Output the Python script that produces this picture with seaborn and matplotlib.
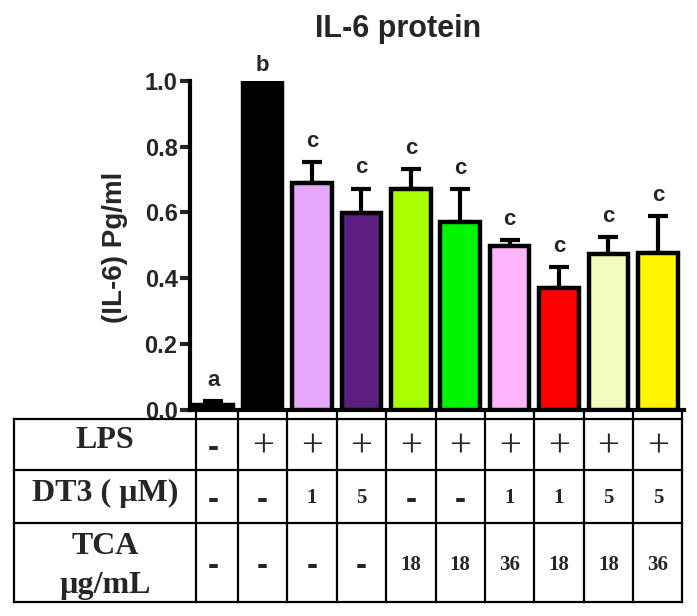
import matplotlib
matplotlib.use("Agg")
import matplotlib.pyplot as plt
import matplotlib.transforms as mtransforms
from matplotlib.lines import Line2D
import seaborn as sns
import pandas as pd
import numpy as np

# ---------------- data ----------------
groups = ["G1", "G2", "G3", "G4", "G5", "G6", "G7", "G8", "G9", "G10"]
means = [0.015, 1.0, 0.688, 0.598, 0.670, 0.571, 0.498, 0.370, 0.474, 0.478]
errors = [0.013, 0.0, 0.064, 0.074, 0.061, 0.100, 0.018, 0.063, 0.051, 0.111]
letters = ["a", "b", "c", "c", "c", "c", "c", "c", "c", "c"]
colors = ["#000000", "#000000", "#E6A8FA", "#5A1F80", "#A8FF00",
          "#00F500", "#FFB5FA", "#FF0000", "#F5FCC0", "#FFF500"]
lps = ["-", "+", "+", "+", "+", "+", "+", "+", "+", "+"]
dt3 = ["-", "-", "1", "5", "-", "-", "1", "1", "5", "5"]
tca = ["-", "-", "-", "-", "18", "18", "36", "18", "18", "36"]
row_labels = ["LPS", "DT3 ( µM)", "TCA\nµg/mL"]
yticks = [0.0, 0.2, 0.4, 0.6, 0.8, 1.0]
ytick_labels = ["0.0", "0.2", "0.4", "0.6", "0.8", "1.0"]
title = "IL-6 protein"
ylabel = "(IL-6) Pg/ml"

sns.set_style("ticks")
plt.rcParams["font.family"] = ["Liberation Sans", "DejaVu Sans"]

W, H = 697, 616
fig = plt.figure(figsize=(W / 100, H / 100), dpi=100)
ax = fig.add_axes([190 / W, 1 - 410 / H, (684 - 190) / W, (410 - 80.7) / H])

df = pd.DataFrame({"group": groups, "value": means})
sns.barplot(data=df, x="group", y="value", hue="group", palette=colors,
            legend=False, ax=ax, width=0.8, edgecolor="black", linewidth=3.2,
            saturation=1, errorbar=None, zorder=3)

xpos = np.arange(len(groups))
ax.errorbar(xpos, means, yerr=[np.zeros(len(means)), errors], fmt="none",
            ecolor="black", elinewidth=3, capsize=7.5, capthick=3, zorder=2)

for i, (m, e, l) in enumerate(zip(means, errors, letters)):
    off = 11 if e > 0 else 7
    ax.annotate(l, xy=(i, m + e), xytext=(0, off), textcoords="offset points",
                ha="center", va="baseline", fontsize=16, fontweight="bold",
                annotation_clip=False)

ax.set_xlim(-0.47, 9.53)
ax.set_ylim(0, 1.0)
ax.set_yticks(yticks)
ax.set_yticklabels(ytick_labels, fontsize=17, fontweight="bold")
ax.tick_params(axis="y", direction="out", length=7, width=3, pad=2)
ax.tick_params(axis="x", length=0, labelbottom=False)
ax.set_xlabel("")
ax.set_ylabel("")
for s in ["top", "right"]:
    ax.spines[s].set_visible(False)
for s in ["left", "bottom"]:
    ax.spines[s].set_linewidth(3)
    ax.spines[s].set_color("black")
    ax.spines[s].set_capstyle("projecting")

fig.text(398 / W, 1 - 36.7 / H, title, ha="center", va="baseline",
         fontsize=22, fontweight="bold")
fig.text(115 / W, 1 - 247.5 / H, ylabel, ha="center", va="center",
         rotation=90, fontsize=20, fontweight="bold")

# ---------------- table ----------------
trans = mtransforms.blended_transform_factory(ax.transData, fig.transFigure)
def fy(px):
    return 1 - px / H

x_left, x_right, x_div = -4.03, 9.49, -0.35
row_lines = [419, 470, 523, 602]
for yp in row_lines:
    fig.add_artist(Line2D([x_left, x_right], [fy(yp), fy(yp)], transform=trans,
                          color="black", lw=1.6, solid_capstyle="projecting"))
vlines = [x_left, x_div] + [i + 0.5 for i in range(9)] + [x_right]
for xv in vlines:
    top = 419 if xv == x_left else 410
    fig.add_artist(Line2D([xv, xv], [fy(top), fy(602)], transform=trans,
                          color="black", lw=1.6, solid_capstyle="projecting"))

serif = ["Liberation Serif", "DejaVu Serif"]
sans = ["Liberation Sans", "DejaVu Sans"]
x_lab = (x_left + x_div) / 2
fig.text(x_lab, fy(441), row_labels[0], transform=trans, ha="center", va="center",
         fontsize=23, fontweight="bold", family=serif)
fig.text(x_lab, fy(493), row_labels[1], transform=trans, ha="center", va="center",
         fontsize=23, fontweight="bold", family=serif)
fig.text(x_lab, fy(566), row_labels[2], transform=trans, ha="center", va="center",
         fontsize=23, fontweight="bold", family=serif, linespacing=1.45)

def cell(x, ypx, s):
    if s == "+":
        fig.text(x, fy(ypx), s, transform=trans, ha="center", va="center",
                 fontsize=28, family=serif)
    elif s == "-":
        fig.text(x, fy(ypx + 2), s, transform=trans, ha="center", va="center",
                 fontsize=24, fontweight="bold", family=sans)
    else:
        fig.text(x, fy(ypx), s, transform=trans, ha="center", va="center",
                 fontsize=15, fontweight="bold", family=serif)

for i in range(len(groups)):
    cell(i, 447, lps[i])
    cell(i, 498, dt3[i])
    cell(i, 565, tca[i])

fig.savefig("out.png", dpi=100, facecolor="white")
